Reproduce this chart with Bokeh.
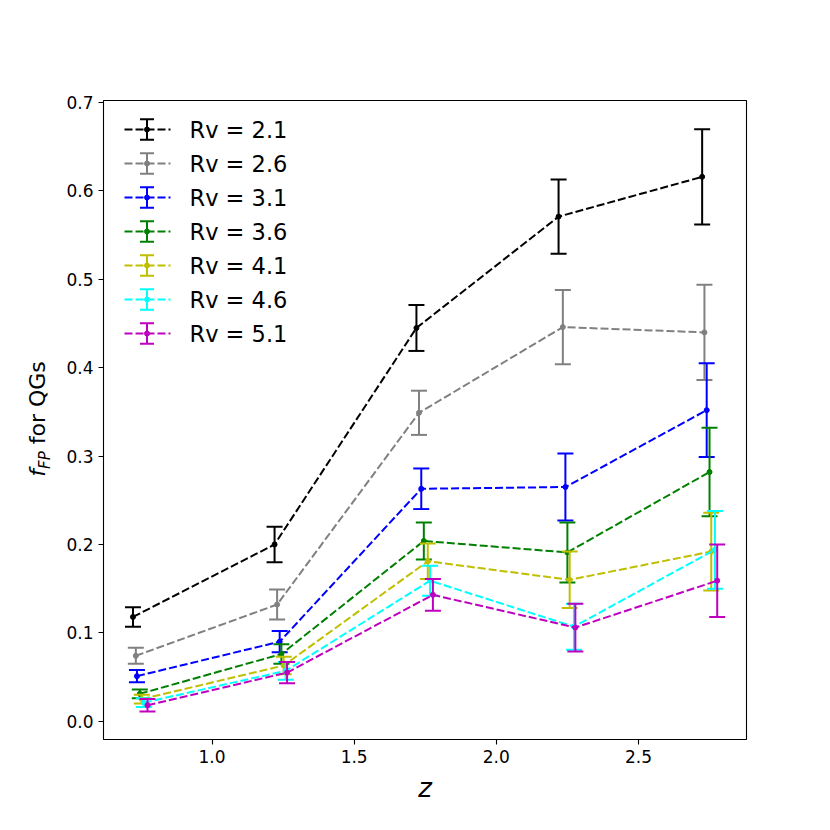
import numpy as np
from bokeh.plotting import figure
from bokeh.layouts import row
from bokeh.models import Range1d, FixedTicker, PrintfTickFormatter, Div
from bokeh.core.properties import value
from bokeh.embed import file_html
from bokeh.resources import INLINE

# ---------------- data ----------------
series_labels = ["Rv = 2.1", "Rv = 2.6", "Rv = 3.1", "Rv = 3.6",
                 "Rv = 4.1", "Rv = 4.6", "Rv = 5.1"]
series_colors = ["#000000", "#808080", "#0000ff", "#008000",
                 "#bfbf00", "#00ffff", "#bf00bf"]

z_21 = [0.722, 1.220, 1.719, 2.219, 2.724]
z_26 = [0.732, 1.229, 1.728, 2.234, 2.732]
z_31 = [0.736, 1.238, 1.736, 2.243, 2.740]
z_36 = [0.746, 1.244, 1.745, 2.250, 2.750]
z_41 = [0.753, 1.252, 1.759, 2.258, 2.756]
z_46 = [0.760, 1.259, 1.767, 2.273, 2.769]
z_51 = [0.773, 1.264, 1.777, 2.278, 2.777]

f_21 = [0.118, 0.200, 0.445, 0.571, 0.616]
f_26 = [0.074, 0.132, 0.349, 0.446, 0.440]
f_31 = [0.051, 0.090, 0.263, 0.265, 0.352]
f_36 = [0.031, 0.076, 0.204, 0.191, 0.282]
f_41 = [0.025, 0.063, 0.181, 0.160, 0.192]
f_46 = [0.021, 0.057, 0.159, 0.107, 0.194]
f_51 = [0.018, 0.055, 0.143, 0.106, 0.159]

err_21 = [0.011, 0.020, 0.026, 0.042, 0.054]
err_26 = [0.009, 0.017, 0.025, 0.042, 0.054]
err_31 = [0.007, 0.012, 0.023, 0.038, 0.053]
err_36 = [0.005, 0.011, 0.021, 0.034, 0.050]
err_41 = [0.005, 0.010, 0.020, 0.032, 0.044]
err_46 = [0.005, 0.010, 0.017, 0.026, 0.044]
err_51 = [0.007, 0.012, 0.018, 0.027, 0.041]

x_ticks = [1.0, 1.5, 2.0, 2.5]
y_ticks = [0.0, 0.1, 0.2, 0.3, 0.4, 0.5, 0.6, 0.7]

zs = [z_21, z_26, z_31, z_36, z_41, z_46, z_51]
fs = [f_21, f_26, f_31, f_36, f_41, f_46, f_51]
errs = [err_21, err_26, err_31, err_36, err_41, err_46, err_51]

# ---------------- layout constants ----------------
X0, X1 = 0.6183, 2.880
Y0, Y1 = -0.0207, 0.7024
FW, FH = 643, 639
WL = 60                 # width of the side panel holding the y label
BL, BT = 43, 100        # main figure borders
BR, BB = 55, 80
H = BT + FH + BB
PAGE_X0 = 1             # page x of the first element
FRAME_LEFT = PAGE_X0 + WL + BL
FRAME_TOP = BT

dxp = (X1 - X0) / FW
dyp = (Y1 - Y0) / FH
def xd(px):
    return X0 + (px - FRAME_LEFT) * dxp
def yd(py):
    return Y1 - (py - FRAME_TOP) * dyp

# ---------------- main figure ----------------
p = figure(frame_width=FW, frame_height=FH,
           x_range=Range1d(X0, X1), y_range=Range1d(Y0, Y1),
           min_border_left=BL, min_border_top=BT,
           min_border_right=BR, min_border_bottom=BB,
           output_backend="svg", toolbar_location=None)

p.xgrid.visible = False
p.ygrid.visible = False
p.outline_line_color = "black"
p.outline_line_width = 1.1
p.background_fill_color = "white"
p.border_fill_color = "white"

p.xaxis.ticker = FixedTicker(ticks=x_ticks)
p.yaxis.ticker = FixedTicker(ticks=y_ticks)
p.xaxis.formatter = PrintfTickFormatter(format="%.1f")
p.yaxis.formatter = PrintfTickFormatter(format="%.1f")
for ax in (p.xaxis, p.yaxis):
    ax.axis_line_color = None
    ax.minor_tick_line_color = None
    ax.major_tick_in = 0
    ax.major_tick_out = 5
    ax.major_tick_line_color = "black"
    ax.major_tick_line_width = 1.1
    ax.major_label_text_font = "DejaVu Sans"
    ax.major_label_text_font_size = "17px"
    ax.major_label_text_color = "black"
    ax.major_label_standoff = 5

p.xaxis.axis_label = "z"
p.xaxis.axis_label_text_font = "DejaVu Sans"
p.xaxis.axis_label_text_font_style = "italic"
p.xaxis.axis_label_text_font_size = "26px"
p.xaxis.axis_label_text_color = "black"
p.xaxis.axis_label_standoff = 7

# ---------------- series (errorbar style) ----------------
for col, z, f, e in zip(series_colors, zs, fs, errs):
    z = np.array(z)
    f = np.array(f)
    e = np.array(e)
    lo = f - e
    hi = f + e
    p.line(z, f, line_color=col, line_width=2, line_dash="8 3")
    p.segment(x0=z, y0=lo, x1=z, y1=hi, line_color=col, line_width=2)
    p.scatter(np.concatenate([z, z]), np.concatenate([lo, hi]), marker="dash",
              size=16, line_color=col, line_width=2)
    p.scatter(z, f, marker="circle", size=5, fill_color=col, line_color=col)

# ---------------- legend (upper left, no frame) ----------------
LEG_X0, LEG_X1, LEG_XC = 125, 171, 147.5
LEG_TEXT_X = 190
ROW0, PITCH = 129, 34
BAR_HALF = 10.3
for i, (lab, col) in enumerate(zip(series_labels, series_colors)):
    ry = ROW0 + PITCH * i
    p.line([xd(LEG_X0), xd(LEG_X1)], [yd(ry), yd(ry)], line_color=col,
           line_width=2, line_dash="8 3")
    p.segment(x0=[xd(LEG_XC)], y0=[yd(ry - BAR_HALF)], x1=[xd(LEG_XC)],
              y1=[yd(ry + BAR_HALF)], line_color=col, line_width=2)
    p.scatter([xd(LEG_XC), xd(LEG_XC)], [yd(ry - BAR_HALF), yd(ry + BAR_HALF)],
              marker="dash", size=14, line_color=col, line_width=2)
    p.scatter([xd(LEG_XC)], [yd(ry)], marker="circle", size=5,
              fill_color=col, line_color=col)
    p.text(x=[xd(LEG_TEXT_X)], y=[yd(ry)], text=[lab], text_baseline="middle",
           text_align="left", text_font=value("DejaVu Sans"),
           text_font_size="22.5px", text_color="black")

# ---------------- y label: f_FP for QGs (rotated HTML text) ----------------
label_center_y = FRAME_TOP + FH / 2
label_left = 25
ylabel_html = (
    '<div style="position:absolute; left:%dpx; top:%dpx; '
    'transform-origin:0 0; transform:rotate(-90deg) translateX(-50%%); '
    "font-family:'DejaVu Sans'; font-size:22px; line-height:26px; "
    'white-space:nowrap; color:black;">'
    '<i>f</i><sub style="font-size:15px; line-height:0; vertical-align:-5px;">'
    '<i>FP</i></sub> for QGs</div>' % (label_left, label_center_y)
)
ylab = Div(text=ylabel_html, width=WL, height=H, margin=0)

layout = row(ylab, p, spacing=0)
open("out.html", "w").write(file_html(layout, INLINE))
